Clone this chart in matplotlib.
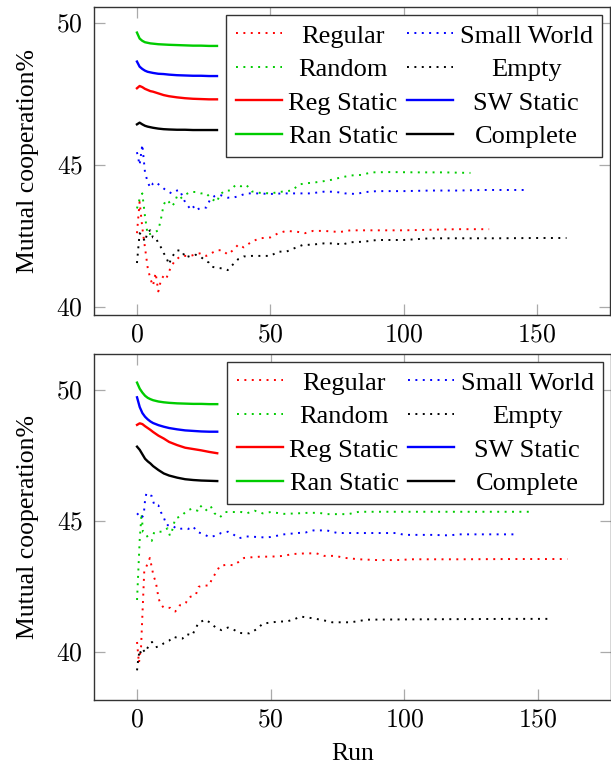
import matplotlib
matplotlib.use("Agg")
import matplotlib.pyplot as plt
from matplotlib.ticker import FuncFormatter, FixedLocator
from matplotlib.offsetbox import DrawingArea

plt.rcParams['font.family'] = ['Liberation Serif', 'DejaVu Serif']
plt.rcParams['mathtext.fontset'] = 'cm'

# ---------------- data: top panel ----------------
t_reg_x = [0,1,2,3,4,5,6,7,8,9,10,11,12,13,14,16,18,20,22,24,26,28,30,32,34,36,38,40,43,46,50,53,56,60,63,66,70,76,80,90,100,110,120,132]
t_reg_y = [42.6,43.7,42.8,42.1,41.4,41.0,40.75,41.2,40.55,40.95,41.1,41.0,41.25,41.45,41.6,41.77,41.8,41.8,41.85,41.9,41.8,41.9,42.0,42.0,41.85,42.0,42.2,42.1,42.3,42.42,42.45,42.6,42.68,42.65,42.6,42.68,42.68,42.64,42.7,42.7,42.7,42.72,42.74,42.74]

t_ran_x = [0,1,2,3,4,6,8,9,10,11,12,13,14,15,16,18,20,22,24,26,28,30,31,33,35,37,39,41,43,46,50,55,58,61,64,67,70,73,76,80,84,88,95,105,115,125]
t_ran_y = [43.47,43.8,44.0,43.2,42.55,42.6,42.7,43.1,43.6,43.77,43.7,43.55,43.65,43.9,43.8,43.95,44.05,44.05,44.0,44.0,43.8,43.7,43.95,44.1,44.1,44.3,44.25,44.3,44.07,44.02,44.0,44.07,44.1,44.32,44.36,44.39,44.43,44.48,44.55,44.63,44.65,44.74,44.75,44.74,44.74,44.72]

t_sw_x = [0,1,2,3,4,5,6,7,9,11,13,15,16,18,20,21,22,24,26,27.5,29,31,34,36,38,41,45,50,55,60,65,70,74,78,82,86,90,100,110,120,130,146]
t_sw_y = [45.45,45.0,45.72,44.75,44.4,44.2,44.35,44.4,44.25,44.1,44.0,44.1,44.12,43.7,43.45,43.55,43.4,43.5,43.5,43.8,43.9,43.95,43.85,43.85,43.9,44.0,44.0,43.98,44.0,44.0,44.0,44.06,44.06,44.0,43.98,44.05,44.08,44.08,44.1,44.1,44.12,44.12]

t_emp_x = [0,1,2,3,4,5,6,7,8,9,10,11,12,13,15,17,18,20,22,23.5,25,27,28,30,32,34,36,38,40,43,46,50,53,56,59,62,66,70,74,77,80,85,90,100,110,120,135,150,161]
t_emp_y = [41.55,42.6,42.5,42.3,42.65,42.7,42.45,42.45,42.25,42.1,41.9,41.75,41.5,41.75,42.0,41.97,41.74,41.8,41.84,41.8,41.68,41.56,41.42,41.38,41.36,41.3,41.5,41.69,41.78,41.8,41.8,41.8,41.95,41.95,42.07,42.18,42.2,42.24,42.24,42.2,42.28,42.3,42.36,42.36,42.42,42.42,42.42,42.43,42.43]

static_x = [0,1,2,3,4,5,6,8,10,12,15,18,21,24,27,30]
t_ran_static = [49.66,49.45,49.37,49.32,49.30,49.28,49.27,49.25,49.24,49.23,49.22,49.21,49.2,49.2,49.19,49.19]
t_sw_static = [48.64,48.46,48.38,48.32,48.28,48.26,48.24,48.21,48.2,48.18,48.16,48.15,48.14,48.14,48.13,48.13]
t_reg_static = [47.70,47.78,47.74,47.68,47.64,47.60,47.58,47.52,47.46,47.42,47.38,47.35,47.33,47.32,47.31,47.31]
t_complete = [46.43,46.49,46.43,46.38,46.35,46.33,46.31,46.28,46.26,46.25,46.24,46.24,46.23,46.23,46.23,46.23]

# ---------------- data: bottom panel ----------------
b_reg_x = [0,0.7,1.5,2.7,3.6,4.8,5.6,6.2,7,7.5,8,8.6,10,12.5,14.3,16,17,18.3,19.4,22,23,24.6,27,28,29.6,31,34,36,38,40,42,46,50,55,58,62,67,70,74,78,83,90,97,103,120,140,161]
b_reg_y = [40.4,39.6,40.2,43.1,43.3,43.6,43.2,42.9,42.7,42.4,42.1,41.88,41.7,41.7,41.56,41.8,41.8,41.9,42.1,42.2,42.5,42.55,42.55,42.8,43.05,43.3,43.35,43.32,43.45,43.6,43.62,43.65,43.65,43.68,43.75,43.77,43.78,43.68,43.68,43.6,43.55,43.52,43.52,43.55,43.55,43.56,43.56]

b_ran_x = [0,1,1.7,2.2,3,4.5,5.5,6.4,8,9.6,11.4,12.3,13,14.3,16.6,18.6,20.6,22.6,23.6,25.6,27.5,29,31,33,36,39,41,44,47,50,55,60,64,68,71,75,79,83,86,95,110,130,148.5]
b_ran_y = [42.0,44.3,45.3,44.6,44.57,44.3,44.25,44.58,44.6,44.6,44.73,44.45,44.6,45.1,45.2,45.4,45.48,45.4,45.6,45.4,45.58,45.3,45.15,45.35,45.35,45.35,45.3,45.4,45.3,45.35,45.28,45.3,45.32,45.32,45.27,45.27,45.27,45.36,45.36,45.36,45.36,45.36,45.36]

b_sw_x = [0,1.7,2.5,3,3.5,5.5,6.5,8,8.9,10,11,13,15,17,19,21,22.4,25,27,29.6,31.4,34,36,38,41,45,48,50,55,60,63,66,71,75,85,97,100,110,117,120,130,141]
b_sw_y = [45.3,45.12,45.25,45.8,46.07,45.96,45.6,45.6,45.35,45.15,44.85,44.85,44.7,44.72,44.7,44.8,44.6,44.5,44.4,44.45,44.55,44.6,44.5,44.35,44.42,44.4,44.38,44.4,44.5,44.55,44.57,44.65,44.65,44.55,44.55,44.55,44.48,44.48,44.46,44.5,44.5,44.5]

b_emp_x = [0,0.5,1,1.5,2.3,3,4.6,5.6,7,8.7,10,12,13.6,16,17,18.6,20.6,23,25.5,27.5,29.4,31.6,34,36.5,38,40,42,45,47,50,53,56,59,61,64,67,70,73,77,80,83,86,100,120,140,154]
b_emp_y = [39.32,39.8,40.1,39.95,40.1,40.0,40.3,40.4,40.2,40.25,40.35,40.45,40.6,40.53,40.53,40.7,40.65,41.13,41.25,41.13,40.95,40.85,40.95,40.85,40.75,40.73,40.73,40.9,41.1,41.14,41.18,41.18,41.27,41.37,41.33,41.28,41.22,41.15,41.15,41.15,41.2,41.25,41.26,41.27,41.28,41.28]

b_ran_static = [50.28,50.05,49.9,49.78,49.7,49.65,49.61,49.56,49.53,49.51,49.49,49.48,49.47,49.47,49.46,49.46]
b_sw_static = [49.72,49.35,49.12,48.98,48.88,48.8,48.74,48.66,48.6,48.55,48.5,48.46,48.44,48.42,48.41,48.41]
b_reg_static = [48.67,48.73,48.7,48.62,48.55,48.48,48.4,48.26,48.15,48.02,47.9,47.8,47.75,47.7,47.64,47.59]
b_complete = [47.84,47.72,47.55,47.38,47.28,47.2,47.1,46.95,46.82,46.74,46.66,46.6,46.57,46.55,46.54,46.53]

x_ticks = [0, 50, 100, 150]
y_ticks = [40, 45, 50]

RED, GREEN, BLUE, BLACK = '#ff0000', '#00cc00', '#0000ff', '#000000'
DOT = (0, (1, 2.8))
FS = 18.5
LFS = 19

fig = plt.figure(figsize=(6.11, 7.68), dpi=100)
ax1 = fig.add_axes([94/611, 1-315/768, 516/611, 308/768])
ax2 = fig.add_axes([94/611, 1-700/768, 517/611, 346/768])

legends = []

def draw(ax, reg, ran, sw, emp, statics, ylim):
    h = {}
    h['Regular'], = ax.plot(reg[0], reg[1], color=RED, ls=DOT, lw=1.4)
    h['Random'], = ax.plot(ran[0], ran[1], color=GREEN, ls=DOT, lw=1.4)
    h['Small World'], = ax.plot(sw[0], sw[1], color=BLUE, ls=DOT, lw=1.4)
    h['Empty'], = ax.plot(emp[0], emp[1], color=BLACK, ls=DOT, lw=1.4)
    rs, ss, rns, cs = statics
    h['Reg Static'], = ax.plot(static_x, rs, color=RED, lw=1.7)
    h['SW Static'], = ax.plot(static_x, ss, color=BLUE, lw=1.7)
    h['Ran Static'], = ax.plot(static_x, rns, color=GREEN, lw=1.7)
    h['Complete'], = ax.plot(static_x, cs, color=BLACK, lw=1.7)
    ax.set_xlim(-16.1, 177.3)
    ax.set_ylim(*ylim)
    ax.xaxis.set_major_locator(FixedLocator(x_ticks))
    ax.yaxis.set_major_locator(FixedLocator(y_ticks))
    fmt = FuncFormatter(lambda v, p: r'$%g$' % v)
    ax.xaxis.set_major_formatter(fmt)
    ax.yaxis.set_major_formatter(fmt)
    ax.tick_params(direction='in', length=8, width=0.9, color='#aaaaaa',
                   top=True, right=True, labelsize=FS, pad=7)
    ax.tick_params(axis='y', pad=8)
    for s in ax.spines.values():
        s.set_color('#333333')
        s.set_linewidth(1.0)
    ax.set_ylabel('Mutual cooperation%', fontsize=FS, labelpad=12)
    order = ['Regular', 'Random', 'Reg Static', 'Ran Static',
             'Small World', 'Empty', 'SW Static', 'Complete']
    leg = ax.legend([h[k] for k in order], order, ncol=2, loc='upper right',
                    bbox_to_anchor=(1.0, 1.0), borderaxespad=0.3,
                    fontsize=LFS, handlelength=1.75, handletextpad=0.25,
                    columnspacing=0.35, labelspacing=0.38, borderpad=0.35,
                    fancybox=False, framealpha=1, edgecolor='#333333')
    leg.get_frame().set_linewidth(1.0)
    legends.append(leg)

draw(ax1, (t_reg_x, t_reg_y), (t_ran_x, t_ran_y), (t_sw_x, t_sw_y), (t_emp_x, t_emp_y),
     (t_reg_static, t_sw_static, t_ran_static, t_complete), (39.72, 50.56))
draw(ax2, (b_reg_x, b_reg_y), (b_ran_x, b_ran_y), (b_sw_x, b_sw_y), (b_emp_x, b_emp_y),
     (b_reg_static, b_sw_static, b_ran_static, b_complete), (38.19, 51.37))
ax2.set_xlabel('Run', fontsize=FS, labelpad=8)

# centre the legend texts within their columns (as in the original)
fig.canvas.draw()
r = fig.canvas.get_renderer()
dpi_cor = r.points_to_pixels(1.0)
for leg in legends:
    try:
        for col in leg._legend_handle_box.get_children():
            items = col.get_children()
            ws = [it.get_children()[1].get_bbox(r).width / dpi_cor for it in items]
            mw = max(ws)
            for it, w in zip(items, ws):
                ch = it.get_children()
                d = (mw - w) / 2.0
                sep = it.sep
                ch.insert(1, DrawingArea(sep + d, 0.01))
                ch.append(DrawingArea(d, 0.01))
                it.sep = 0
    except Exception:
        pass

fig.savefig('out.png', dpi=100)
